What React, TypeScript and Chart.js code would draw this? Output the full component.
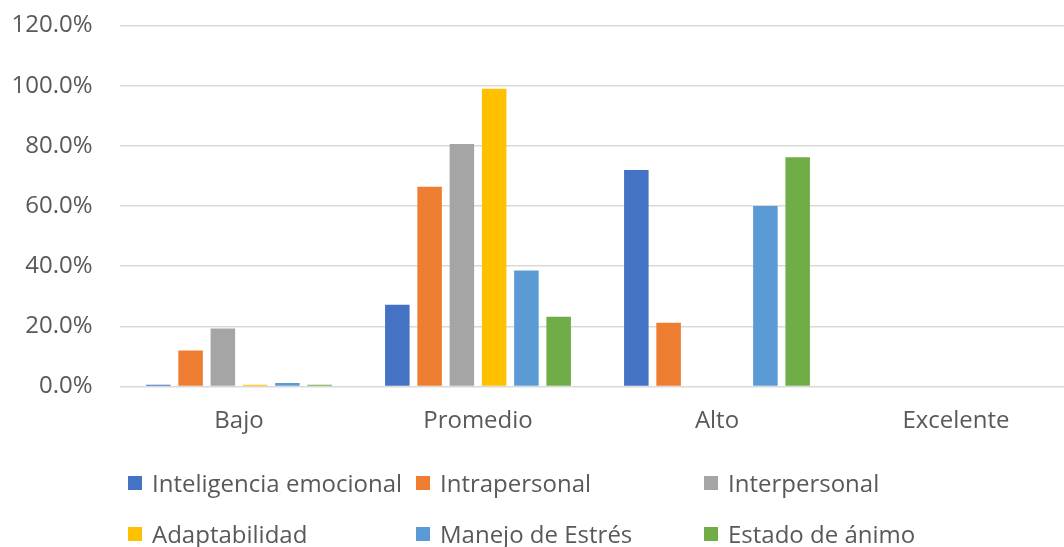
import React, { useEffect, useRef } from "react";
import { Chart, registerables } from "chart.js";

Chart.register(...registerables);

const categories = ["Bajo", "Promedio", "Alto", "Excelente"];
const seriesNames = [
  "Inteligencia emocional",
  "Intrapersonal",
  "Interpersonal",
  "Adaptabilidad",
  "Manejo de Estrés",
  "Estado de ánimo",
];
const inteligenciaEmocional = [0.6, 27.2, 72.0, 0];
const intrapersonal = [12.0, 66.4, 21.2, 0];
const interpersonal = [19.3, 80.6, 0, 0];
const adaptabilidad = [0.6, 99.0, 0, 0];
const manejoDeEstres = [1.2, 38.6, 60.0, 0];
const estadoDeAnimo = [0.6, 23.2, 76.2, 0];
const seriesColors = ["#4472C4", "#ED7D31", "#A5A5A5", "#FFC000", "#5B9BD5", "#70AD47"];
const yMax = 120;
const yStep = 20;

const FONT = "'Open Sans', sans-serif";
const TEXT = "#595959";
const FS = 24;

export default function App() {
  const ref = useRef<HTMLCanvasElement | null>(null);

  useEffect(() => {
    if (!ref.current) return;
    const allSeries = [
      inteligenciaEmocional,
      intrapersonal,
      interpersonal,
      adaptabilidad,
      manejoDeEstres,
      estadoDeAnimo,
    ];
    const chart = new Chart(ref.current, {
      type: "bar",
      data: {
        labels: categories,
        datasets: allSeries.map((d, i) => ({
          label: seriesNames[i],
          data: d,
          backgroundColor: seriesColors[i],
          borderWidth: 0,
          categoryPercentage: 0.81,
          barPercentage: 0.76,
        })),
      },
      options: {
        animation: false,
        responsive: false,
        maintainAspectRatio: false,
        layout: { padding: { top: 25.5, left: 0, right: 14.5, bottom: 0 } },
        plugins: {
          legend: { display: false },
          tooltip: { enabled: false },
        },
        scales: {
          x: {
            grid: { display: false, drawTicks: false },
            border: { display: false },
            ticks: {
              color: TEXT,
              font: { family: FONT, size: FS },
              padding: 20,
              maxRotation: 0,
            },
            afterFit: (s: any) => {
              s.height = 160.5;
              s.paddingLeft = 0;
              s.paddingRight = 0;
            },
          },
          y: {
            min: 0,
            max: yMax,
            grid: { color: "#D9D9D9", lineWidth: 1.5, drawTicks: false },
            border: { display: false },
            ticks: {
              stepSize: yStep,
              color: TEXT,
              font: { family: FONT, size: FS },
              padding: 27,
              callback: (v: any) => Number(v).toFixed(1) + "%",
            },
            afterFit: (s: any) => {
              s.width = 119.5;
              s.paddingTop = 0;
              s.paddingBottom = 0;
            },
          },
        },
      },
    });
    return () => chart.destroy();
  }, []);

  const rows = [
    [0, 1, 2],
    [3, 4, 5],
  ];

  return (
    <div
      style={{
        position: "absolute",
        left: 0,
        top: 0,
        width: 1064,
        height: 547,
        overflow: "hidden",
        background: "#fff",
      }}
    >
      <canvas ref={ref} width={1090} height={547} style={{ width: 1090, height: 547, display: "block" }} />
      {rows.map((row, r) =>
        row.map((idx, c) => (
          <div
            key={idx}
            style={{
              position: "absolute",
              left: 128 + c * 288,
              top: 467.5 + r * 51,
              height: 30,
              display: "flex",
              alignItems: "center",
              whiteSpace: "nowrap",
              fontFamily: FONT,
              fontSize: FS,
              color: TEXT,
            }}
          >
            <span
              style={{
                display: "inline-block",
                width: 14,
                height: 14,
                background: seriesColors[idx],
                marginRight: 10,
              }}
            />
            <span>{seriesNames[idx]}</span>
          </div>
        ))
      )}
    </div>
  );
}
